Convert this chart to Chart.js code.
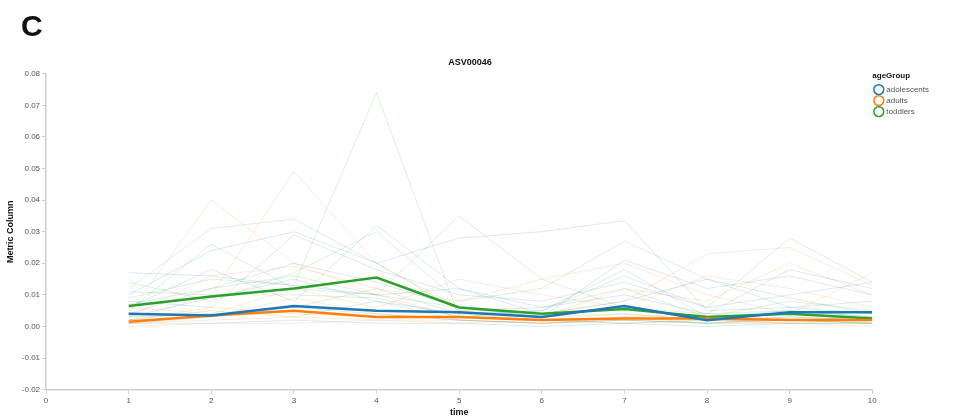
<!DOCTYPE html>
<html>
<head>
<meta charset="utf-8">
<script src="https://cdn.jsdelivr.net/npm/chart.js@4.4.1/dist/chart.umd.min.js"></script>
<style>
  html, body { margin: 0; padding: 0; background: #fff; }
  #wrap { position: relative; width: 953px; height: 419px; }
  #panel { position: absolute; left: 21px; top: 9px; font: bold 30px "Liberation Sans", Arial, sans-serif; color: #111; }
</style>
</head>
<body>
<div id="wrap">
  <div id="panel">C</div>
  <canvas id="myChart" width="953" height="419"></canvas>
</div>
<script>
// time points and tick labels
const timePoints = [1, 2, 3, 4, 5, 6, 7, 8, 9, 10];
const yTicks = [-0.02, -0.01, 0.00, 0.01, 0.02, 0.03, 0.04, 0.05, 0.06, 0.07, 0.08];
const groups = ['adolescents', 'adults', 'toddlers'];

// group means (thick lines)
const adolescentsMean = [0.0040, 0.0035, 0.0065, 0.0050, 0.0045, 0.0030, 0.0065, 0.0020, 0.0045, 0.0045];
const adultsMean      = [0.0015, 0.0035, 0.0050, 0.0030, 0.0030, 0.0020, 0.0025, 0.0025, 0.0020, 0.0020];
const toddlersMean    = [0.0065, 0.0095, 0.0120, 0.0155, 0.0060, 0.0040, 0.0055, 0.0030, 0.0040, 0.0025];

// single subjects (faint lines)
const adolescentSubjects = [
  [0.017, 0.016, 0.013, 0.010, 0.012, 0.006, 0.010, 0.004, 0.018, 0.012],
  [0.010, 0.024, 0.030, 0.020, 0.028, 0.030, 0.0335, 0.005, 0.006, 0.004],
  [0.004, 0.012, 0.020, 0.014, 0.006, 0.003, 0.021, 0.012, 0.016, 0.010],
  [0.002, 0.003, 0.006, 0.004, 0.002, 0.001, 0.002, 0.001, 0.003, 0.002],
  [0.008, 0.006, 0.029, 0.018, 0.010, 0.008, 0.014, 0.006, 0.010, 0.014],
  [0.001, 0.001, 0.002, 0.001, 0.001, 0.000, 0.001, 0.000, 0.001, 0.001],
  [0.006, 0.018, 0.008, 0.032, 0.012, 0.004, 0.008, 0.015, 0.006, 0.008],
  [0.003, 0.009, 0.015, 0.008, 0.004, 0.005, 0.018, 0.003, 0.005, 0.003]
];
const adultSubjects = [
  [0.004, 0.040, 0.020, 0.010, 0.003, 0.002, 0.004, 0.002, 0.001, 0.002],
  [0.002, 0.010, 0.049, 0.020, 0.006, 0.004, 0.008, 0.023, 0.025, 0.013],
  [0.001, 0.002, 0.003, 0.002, 0.002, 0.001, 0.002, 0.001, 0.002, 0.001],
  [0.003, 0.016, 0.019, 0.012, 0.008, 0.015, 0.020, 0.010, 0.004, 0.017],
  [0.000, 0.001, 0.001, 0.002, 0.001, 0.002, 0.001, 0.002, 0.001, 0.000],
  [0.006, 0.004, 0.012, 0.006, 0.015, 0.010, 0.006, 0.016, 0.012, 0.006],
  [0.002, 0.006, 0.004, 0.003, 0.005, 0.003, 0.012, 0.008, 0.020, 0.010],
  [0.001, 0.003, 0.009, 0.004, 0.002, 0.001, 0.003, 0.004, 0.002, 0.003]
];
const toddlerSubjects = [
  [0.012, 0.031, 0.034, 0.020, 0.005, 0.006, 0.012, 0.003, 0.008, 0.005],
  [0.009, 0.015, 0.013, 0.074, 0.003, 0.005, 0.016, 0.006, 0.028, 0.014],
  [0.005, 0.026, 0.012, 0.010, 0.035, 0.015, 0.006, 0.004, 0.005, 0.003],
  [0.014, 0.008, 0.017, 0.030, 0.008, 0.012, 0.027, 0.015, 0.009, 0.004],
  [0.003, 0.004, 0.006, 0.012, 0.004, 0.002, 0.003, 0.001, 0.002, 0.001],
  [0.007, 0.012, 0.016, 0.010, 0.006, 0.003, 0.004, 0.002, 0.003, 0.002],
  [0.002, 0.005, 0.003, 0.008, 0.002, 0.001, 0.002, 0.001, 0.001, 0.001],
  [0.011, 0.010, 0.010, 0.009, 0.003, 0.002, 0.001, 0.002, 0.002, 0.001]
];

const colors = { adolescents: '31, 119, 180', adults: '255, 127, 14', toddlers: '44, 160, 44' };

function toXY(vals) {
  return vals.map((v, i) => ({ x: timePoints[i], y: v }));
}

// thick mean lines first so they sit on top
let datasets = [];
[[groups[0], adolescentsMean], [groups[1], adultsMean], [groups[2], toddlersMean]].forEach(([g, vals]) => {
  datasets.push({
    label: g,
    isMean: true,
    data: toXY(vals),
    borderColor: 'rgb(' + colors[g] + ')',
    backgroundColor: '#fff',
    borderWidth: 2.5,
    pointRadius: 0,
    tension: 0
  });
});
[[groups[0], adolescentSubjects], [groups[1], adultSubjects], [groups[2], toddlerSubjects]].forEach(([g, list]) => {
  list.forEach((vals, k) => {
    datasets.push({
      label: g + ' ' + (k + 1),
      data: toXY(vals),
      borderColor: 'rgba(' + colors[g] + ', 0.16)',
      borderWidth: 1,
      pointRadius: 0,
      tension: 0
    });
  });
});

const axisColor = '#cfcfcf';
const tickFont = { family: '"Liberation Sans", Arial, sans-serif', size: 8 };
const boldFont = { family: '"Liberation Sans", Arial, sans-serif', size: 9, weight: 'bold' };

let ctx = document.getElementById('myChart').getContext('2d');
let chart = new Chart(ctx, {
  type: 'line',
  data: { datasets: datasets },
  options: {
    responsive: false,
    animation: false,
    layout: { padding: { top: 51, left: 1, right: 14, bottom: 1 } },
    plugins: {
      title: {
        display: true,
        text: 'ASV00046',
        font: boldFont,
        color: '#111',
        padding: { top: 6, bottom: 6 }
      },
      legend: {
        position: 'right',
        align: 'start',
        title: {
          display: true,
          text: 'ageGroup',
          position: 'start',
          font: { family: '"Liberation Sans", Arial, sans-serif', size: 8, weight: 'bold' },
          color: '#111',
          padding: { top: 21, bottom: 1, left: 0 }
        },
        labels: {
          font: tickFont,
          color: '#555',
          usePointStyle: true,
          pointStyle: 'circle',
          boxWidth: 7,
          boxHeight: 7,
          padding: 3,
          filter: (item, data) => data.datasets[item.datasetIndex].isMean,
          generateLabels: (c) => {
            const items = Chart.defaults.plugins.legend.labels.generateLabels(c);
            items.forEach(it => { it.fillStyle = '#fff'; it.lineWidth = 1.5; it.pointStyle = 'circle'; });
            return items;
          }
        }
      },
      tooltip: { enabled: false }
    },
    scales: {
      x: {
        type: 'linear',
        min: 0,
        max: 10,
        title: { display: true, text: 'time', font: boldFont, color: '#111', padding: 0 },
        ticks: { stepSize: 1, font: tickFont, color: '#555', padding: 2, maxRotation: 0 },
        grid: { display: true, drawOnChartArea: false, drawTicks: true, tickLength: 4, color: axisColor },
        border: { display: true, color: axisColor, width: 1.5 }
      },
      y: {
        type: 'linear',
        min: yTicks[0],
        max: yTicks[yTicks.length - 1],
        title: { display: true, text: 'Metric Column', font: boldFont, color: '#111', padding: 4 },
        afterBuildTicks: (axis) => { axis.ticks = yTicks.map(v => ({ value: v })); },
        ticks: { font: tickFont, color: '#555', padding: 2, callback: (v) => Number(v).toFixed(2) },
        grid: { display: true, drawOnChartArea: false, drawTicks: true, tickLength: 4, color: axisColor },
        border: { display: true, color: axisColor, width: 1.5 }
      }
    }
  }
});
</script>
</body>
</html>
